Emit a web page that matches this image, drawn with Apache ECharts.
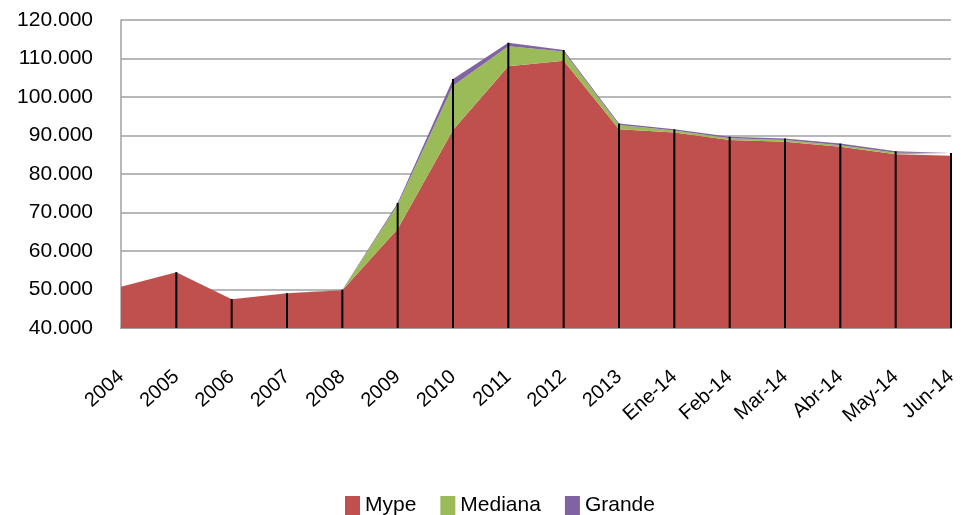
<!DOCTYPE html>
<html>
<head>
<meta charset="utf-8">
<script src="https://cdn.jsdelivr.net/npm/echarts@6/dist/echarts.min.js"></script>
<style>
html,body{margin:0;padding:0;background:#fff;}
#chart{width:961px;height:515px;}
</style>
</head>
<body>
<div id="chart"></div>
<script>
const categories = ['2004','2005','2006','2007','2008','2009','2010','2011','2012','2013','Ene-14','Feb-14','Mar-14','Abr-14','May-14','Jun-14'];
const mype    = [50700, 54500, 47500, 49000, 49800, 65700, 91400, 108000, 109400, 91600, 90800, 88800, 88400, 87100, 85100, 84750];
const mediana = [0, 0, 0, 0, 100, 6300, 11500, 5200, 2400, 1100, 500, 500, 400, 400, 400, 450];
const grande  = [0, 0, 0, 0, 50, 500, 1800, 900, 400, 400, 300, 400, 400, 400, 400, 250];
const yTicks = { min: 40000, max: 120000, interval: 10000 };

const totals = categories.map((c, i) => mype[i] + mediana[i] + grande[i]);
const FONT = 'Liberation Sans';

const chart = echarts.init(document.getElementById('chart'));
function areaSeries(name, data, color) {
  return {
    name, type: 'line', stack: 'total', data,
    symbol: 'none', showSymbol: false,
    lineStyle: { width: 0 },
    areaStyle: { color, opacity: 1 },
    itemStyle: { color },
    emphasis: { disabled: true },
    z: 2
  };
}
chart.setOption({
  animation: false,
  grid: { left: 121, right: 10, top: 20, bottom: 187, containLabel: false },
  legend: {
    data: ['Mype', 'Mediana', 'Grande'],
    bottom: -6, left: 340,
    itemWidth: 15, itemHeight: 19, itemGap: 24,
    icon: 'rect',
    textStyle: { fontFamily: FONT, fontSize: 21, color: '#000', padding: [0, 0, 0, 0] }
  },
  xAxis: {
    type: 'category', data: categories, boundaryGap: false,
    axisLine: { lineStyle: { color: '#a0a0a0', width: 2 } },
    axisTick: { show: false },
    splitLine: { show: false },
    axisLabel: { rotate: 42, margin: 46, fontFamily: FONT, fontSize: 20, color: '#000', interval: 0 }
  },
  yAxis: {
    type: 'value', min: yTicks.min, max: yTicks.max, interval: yTicks.interval,
    axisLine: { show: true, lineStyle: { color: '#a0a0a0', width: 1.5 } },
    axisTick: { show: false },
    splitLine: { lineStyle: { color: '#a0a0a0', width: 1.5 } },
    axisLabel: {
      margin: 28, fontFamily: FONT, fontSize: 21, color: '#000',
      formatter: v => String(v).replace(/\B(?=(\d{3})+(?!\d))/g, '.')
    }
  },
  series: [
    areaSeries('Mype', mype, '#C0504D'),
    areaSeries('Mediana', mediana, '#9BBB59'),
    areaSeries('Grande', grande, '#8064A2'),
    {
      name: 'drop', type: 'custom', z: 5,
      data: totals.map((t, i) => [i, t]),
      renderItem: function (params, api) {
        const i = api.value(0);
        if (i === 0) return null;
        const p1 = api.coord([i, yTicks.min]);
        const p2 = api.coord([i, api.value(1)]);
        return {
          type: 'line',
          shape: { x1: p1[0], y1: p1[1], x2: p2[0], y2: p2[1] },
          style: { stroke: '#000', lineWidth: 2 }
        };
      },
      silent: true
    }
  ]
});
</script>
</body>
</html>
